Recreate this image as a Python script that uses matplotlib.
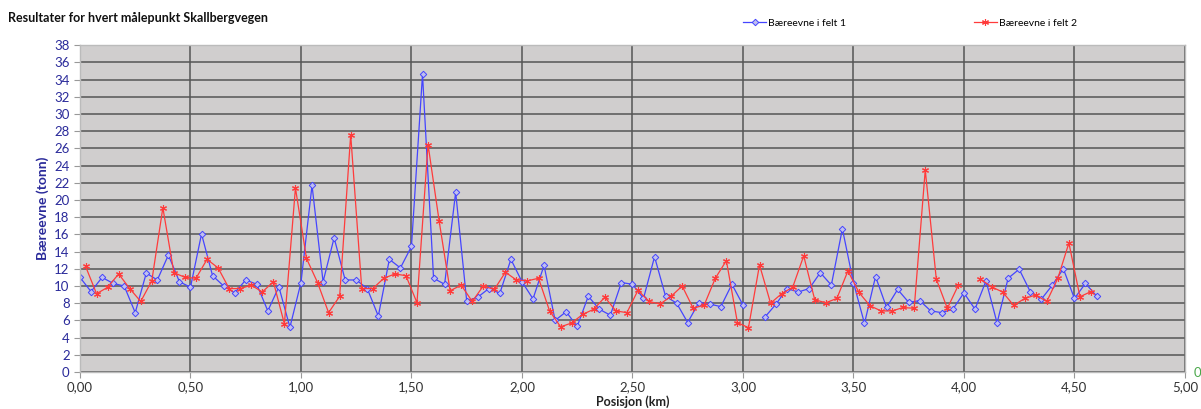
import numpy as np
import matplotlib
matplotlib.use("Agg")
import matplotlib.pyplot as plt

plt.rcParams['font.family'] = ['Lato', 'DejaVu Sans']

# Bæreevne målt i felt 1, hver 0,05 km fra 0,00 til 4,60 (nan = manglende måling)
felt1_pos = np.round(np.arange(0, 93) * 0.05, 3)
felt1 = [11.0, 9.35, 11.0, 10.3, 10.0, 6.9, 11.5, 10.7, 13.6, 10.5,
         9.85, 16.05, 11.2, 10.0, 9.2, 10.7, 10.2, 7.1, 9.9, 5.2,
         10.4, 21.7, 10.5, 15.6, 10.7, 10.7, 9.7, 6.5, 13.1, 12.1,
         14.6, 34.6, 10.9, 10.2, 20.9, 8.25, 8.7, 9.7, 9.15, 13.1,
         10.5, 8.5, 12.4, 6.0, 7.0, 5.3, 8.8, 7.3, 6.6, 10.4,
         10.2, 8.55, 13.4, 8.8, 8.0, 5.75, 8.05, 7.9, 7.6, 10.2,
         7.8, np.nan, 6.4, 7.9, 9.7, 9.3, 9.7, 11.55, 10.1, 16.65,
         10.4, 5.65, 11.1, 7.5, 9.6, 8.1, 8.3, 7.1, 6.9, 7.3,
         9.2, 7.3, 10.6, 5.7, 10.9, 11.95, 9.35, 8.45, 10.1, 12.0,
         8.55, 10.3, 8.85]

# Felt 2 er målt forskjøvet 0,025 km
felt2_pos = np.round(0.025 + np.arange(0, 92) * 0.05, 3)
felt2 = [12.3, 9.1, 9.85, 11.4, 9.7, 8.2, 10.6, 19.1, 11.55, 11.0,
         10.9, 13.1, 12.1, 9.7, 9.7, 10.1, 9.3, 10.5, 5.6, 21.4,
         13.2, 10.4, 6.9, 8.8, 27.6, 9.7, 9.7, 10.9, 11.4, 11.2,
         8.05, 26.45, 17.6, 9.45, 10.1, 8.2, 10.0, 9.6, 11.6, 10.7,
         10.6, 10.9, 7.1, 5.25, 5.7, 6.7, 7.3, 8.7, 7.1, 6.9,
         9.5, 8.2, 7.9, 8.8, 10.0, 7.4, 7.8, 10.9, 12.95, 5.75,
         5.15, 12.45, 8.0, 9.1, 9.85, 13.5, 8.4, 8.05, 8.55, 11.75,
         9.25, 7.7, 7.1, 7.1, 7.5, 7.4, 23.5, 10.8, 7.4, 10.1,
         np.nan, 10.8, 9.9, 9.3, 7.75, 8.55, 8.95, 8.2, 10.9, 15.0,
         8.75, 9.35]

x_ticks = np.arange(0, 5.01, 0.5)
y_ticks = np.arange(0, 39, 2)

fig = plt.figure(figsize=(12.01, 4.09), dpi=100)
ax = fig.add_axes([0.0666, 0.0905, 0.92, 0.799])
ax.set_facecolor('#d0cece')

l1, = ax.plot(felt1_pos, felt1, color='#4545ff', lw=0.9, marker='D', ms=3.3,
              mfc='#c0c0ee', mec='#4545ff', mew=0.7, label='Bæreevne i felt 1')
l2, = ax.plot(felt2_pos, felt2, color='#ff3b3b', lw=0.9, marker=(6, 2, 0), ms=5,
              mec='#ff3b3b', mew=0.8, label='Bæreevne i felt 2')

ax.set_xlim(0, 5)
ax.set_ylim(0, 38)
ax.set_xticks(x_ticks)
ax.set_xticklabels([f"{v:.2f}".replace('.', ',') for v in x_ticks])
ax.set_yticks(y_ticks)
ax.tick_params(axis='y', labelsize=9.5, labelcolor='#2a2a9a', color='#999999', length=4)
ax.tick_params(axis='x', labelsize=9.5, labelcolor='#333333', color='#999999', length=4, pad=2.5)

ax.grid(True, color='#555555', lw=1.1)
ax.set_axisbelow(True)
for side in ['top', 'right', 'left', 'bottom']:
    ax.spines[side].set_color('#bbbbbb')
    ax.spines[side].set_linewidth(1.0)

ax.set_ylabel('Bæreevne (tonn)', fontsize=10, fontweight='bold', color='#2a2a9a', labelpad=4)
ax.set_xlabel('Posisjon (km)', fontsize=9, fontweight='bold', color='#222222', va='center')
ax.xaxis.set_label_coords(0.5, -0.091)

fig.text(0.007, 0.955, 'Resultater for hvert målepunkt Skallbergvegen',
         fontsize=9, fontweight='bold', color='#111111', va='center')
fig.text(0.994, 0.088, '0', fontsize=9.5, color='#4aa84a', va='center', ha='left')

# to separate legendoppføringer, plassert som i Excel-oppsettet
leg1 = fig.legend(handles=[l1], loc='center left', bbox_to_anchor=(0.619, 0.944),
                  frameon=False, fontsize=7.5, handlelength=2.2, handletextpad=0.2,
                  borderpad=0, borderaxespad=0)
leg2 = fig.legend(handles=[l2], loc='center left', bbox_to_anchor=(0.811, 0.944),
                  frameon=False, fontsize=7.5, handlelength=2.2, handletextpad=0.2,
                  borderpad=0, borderaxespad=0)

fig.savefig('out.png', dpi=100)
